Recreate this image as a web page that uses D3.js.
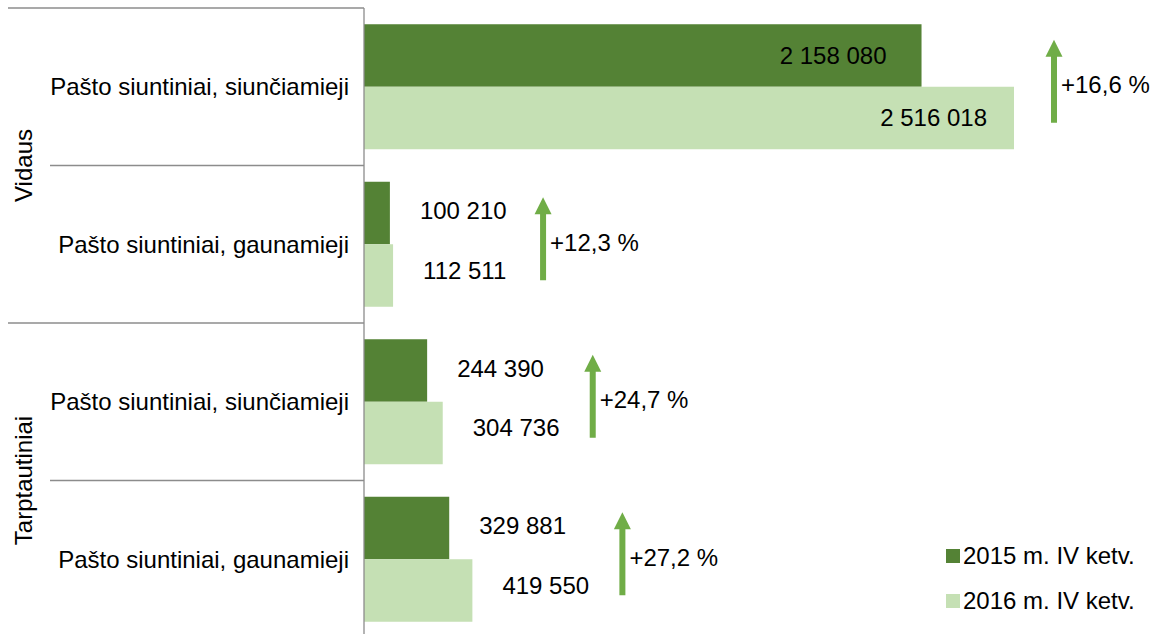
<!DOCTYPE html>
<html>
<head>
<meta charset="utf-8">
<script src="https://cdn.jsdelivr.net/npm/d3@7"></script>
<style>
  body { margin: 0; background: #fff; }
  text { font-family: "Liberation Sans", Arial, sans-serif; }
</style>
</head>
<body>
<div class="chart"></div>
<script>
    const groups = ["Vidaus", "Tarptautiniai"];
    const categories = ["Pašto siuntiniai, siunčiamieji", "Pašto siuntiniai, gaunamieji",
                        "Pašto siuntiniai, siunčiamieji", "Pašto siuntiniai, gaunamieji"];
    const catGroup = [0, 0, 1, 1];
    const series = ["2015 m. IV ketv.", "2016 m. IV ketv."];
    const values2015 = [2158080, 100210, 244390, 329881];
    const values2016 = [2516018, 112511, 304736, 419550];
    const colors = ["#548235", "#c5e0b4"];

    const width = 1162, height = 634;
    const margin = ({top: 8, right: 0, bottom: 0, left: 364});
    const fontSize = 24;

    const svg = d3.select('.chart').append('svg')
        .attr("width", width)
        .attr("height", height);

    const rows = categories.map((c, i) => ({id: i, name: c, v: [values2015[i], values2016[i]]}));

    const yScale = d3.scaleBand()
        .domain(rows.map(d => d.id))
        .range([margin.top, margin.top + 630])
        .paddingInner(0)
        .paddingOuter(0);

    const inner = d3.scaleBand()
        .domain([0, 1])
        .range([0, yScale.bandwidth()])
        .paddingOuter(0.26)
        .paddingInner(0);

    const xScale = d3.scaleLinear()
        .domain([0, 2516018])
        .range([margin.left, 1014]);

    const fmt = v => d3.format(",")(v).replace(/,/g, " ");

    // bars
    const row = svg.selectAll("g.row")
        .data(rows)
        .enter().append("g")
        .attr("class", "row")
        .attr("transform", d => `translate(0,${yScale(d.id)})`);

    row.selectAll("rect")
        .data(d => d.v.map((v, k) => ({v, k})))
        .enter().append("rect")
        .attr("x", xScale(0))
        .attr("y", d => inner(d.k))
        .attr("width", d => xScale(d.v) - xScale(0))
        .attr("height", inner.bandwidth())
        .attr("fill", d => colors[d.k]);

    // value labels: inside end for long bars, outside for short ones
    row.selectAll("text.val")
        .data(d => d.v.map((v, k) => ({v, k})))
        .enter().append("text")
        .attr("class", "val")
        .attr("x", d => d.v > 1000000 ? xScale(d.v) - (d.k ? 27 : 35) : xScale(d.v) + 30)
        .attr("y", d => inner(d.k) + inner.bandwidth() / 2 + (d.v > 1000000 ? 0 : (d.k ? -5 : -2)))
        .attr("dy", "0.35em")
        .attr("text-anchor", d => d.v > 1000000 ? "end" : "start")
        .attr("font-size", fontSize)
        .attr("fill", "#000")
        .text(d => fmt(d.v));

    // growth arrows
    const arrowColor = "#70ad47";
    row.each(function(d) {
        const g = d3.select(this);
        const big = d.v[1] > 1000000;
        const ax = xScale(d.v[1]) + (big ? 40 : 150);
        const cy = yScale.bandwidth() / 2 - 6;
        const top = cy - 41, bottom = cy + 42;
        g.append("rect")
            .attr("x", ax - 3)
            .attr("y", top + 16)
            .attr("width", 6)
            .attr("height", bottom - top - 16)
            .attr("fill", arrowColor);
        g.append("path")
            .attr("d", `M${ax - 8.5},${top + 17}L${ax},${top}L${ax + 8.5},${top + 17}Z`)
            .attr("fill", arrowColor);
        const pct = (d.v[1] / d.v[0] - 1) * 100;
        g.append("text")
            .attr("x", ax + 7)
            .attr("y", cy + 4)
            .attr("dy", "0.35em")
            .attr("font-size", fontSize)
            .text("+" + d3.format(".1f")(pct).replace(".", ",") + " %");
    });

    // category labels
    svg.selectAll("text.cat")
        .data(rows)
        .enter().append("text")
        .attr("class", "cat")
        .attr("x", margin.left - 15)
        .attr("y", d => yScale(d.id) + yScale.bandwidth() / 2)
        .attr("dy", "0.35em")
        .attr("text-anchor", "end")
        .attr("font-size", fontSize)
        .text(d => d.name);

    // group labels and separators
    const lineColor = "#8c8c8c";
    groups.forEach((g, gi) => {
        const ids = rows.filter(r => catGroup[r.id] === gi).map(r => r.id);
        const y0 = yScale(ids[0]);
        const y1 = yScale(ids[ids.length - 1]) + yScale.bandwidth();
        svg.append("text")
            .attr("transform", `translate(24,${(y0 + y1) / 2}) rotate(-90)`)
            .attr("dy", "0.35em")
            .attr("text-anchor", "middle")
            .attr("font-size", fontSize)
            .text(g);
        svg.append("line")
            .attr("x1", 8).attr("x2", margin.left)
            .attr("y1", y0).attr("y2", y0)
            .attr("stroke", lineColor).attr("stroke-width", 1.3);
        ids.slice(1).forEach(id => {
            svg.append("line")
                .attr("x1", 50).attr("x2", margin.left)
                .attr("y1", yScale(id)).attr("y2", yScale(id))
                .attr("stroke", lineColor).attr("stroke-width", 1.3);
        });
    });

    svg.append("line")
        .attr("x1", margin.left).attr("x2", margin.left)
        .attr("y1", margin.top).attr("y2", height)
        .attr("stroke", lineColor).attr("stroke-width", 1.3);

    // legend
    const legend = svg.selectAll("g.legend")
        .data(series)
        .enter().append("g")
        .attr("class", "legend")
        .attr("transform", (d, i) => `translate(946,${556 + i * 45})`);

    legend.append("rect")
        .attr("x", 0).attr("y", -7)
        .attr("width", 14).attr("height", 14)
        .attr("fill", (d, i) => colors[i]);

    legend.append("text")
        .attr("x", 17)
        .attr("y", 0)
        .attr("dy", "0.35em")
        .attr("font-size", fontSize)
        .text(d => d);
</script>
</body>
</html>
